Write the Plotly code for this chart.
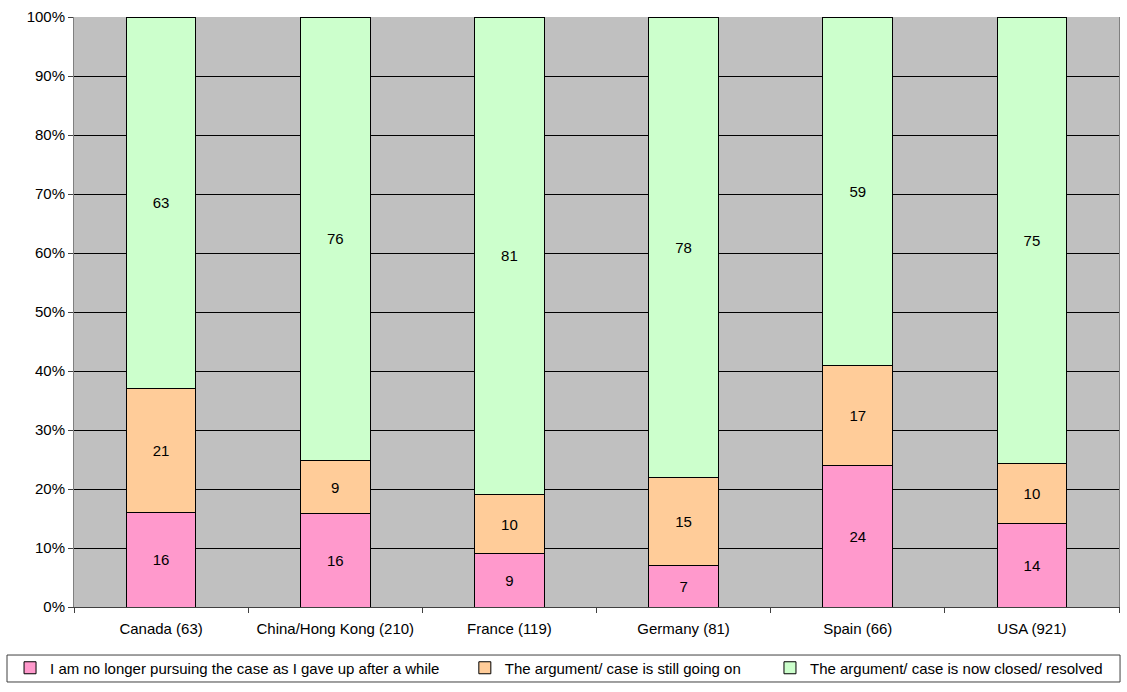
import plotly.graph_objects as go

# Survey responses by country (sample size in brackets), values in percent
categories = ["Canada (63)", "China/Hong Kong (210)", "France (119)",
              "Germany (81)", "Spain (66)", "USA (921)"]
gave_up = [16, 16, 9, 7, 24, 14]
ongoing = [21, 9, 10, 15, 17, 10]
resolved = [63, 76, 81, 78, 59, 75]

series_names = [
    "I am no longer pursuing the case as I gave up after a while",
    "The argument/ case is still going on",
    "The argument/ case is now closed/ resolved",
]
series_values = [gave_up, ongoing, resolved]
series_colors = ["#FF99CC", "#FFCC99", "#CCFFCC"]
legend_ids = ["legend", "legend2", "legend3"]

FONT = "Liberation Sans, Arial, sans-serif"
FS = 15

fig = go.Figure()
for name, vals, color, lg in zip(series_names, series_values, series_colors, legend_ids):
    fig.add_trace(go.Bar(
        x=categories,
        y=vals,
        name=name,
        width=0.4,
        marker=dict(color=color, line=dict(color="black", width=1)),
        text=[str(v) for v in vals],
        textposition="inside",
        insidetextanchor="middle",
        textangle=0,
        textfont=dict(family=FONT, size=FS, color="black"),
        constraintext="none",
        hoverinfo="x+y+name",
        showlegend=True,
        legend=lg,
    ))

legend_common = dict(
    orientation="h",
    yanchor="middle",
    y=-0.1034,
    xanchor="left",
    bgcolor="rgba(0,0,0,0)",
    borderwidth=0,
    font=dict(family=FONT, size=FS, color="black"),
    itemclick=False,
    itemdoubleclick=False,
    visible=True,
)

fig.update_layout(
    width=1127,
    height=692,
    margin=dict(l=74, r=8, t=17, b=85),
    paper_bgcolor="white",
    plot_bgcolor="#C0C0C0",
    barmode="stack",
    barnorm="percent",
    showlegend=True,
    font=dict(family=FONT, size=FS, color="black"),
    uniformtext=dict(minsize=FS, mode="show"),
    legend=dict(x=-0.0612, **legend_common),
    legend2=dict(x=0.374, **legend_common),
    legend3=dict(x=0.666, **legend_common),
    shapes=[dict(
        type="rect", xref="paper", yref="paper",
        x0=-0.0641, x1=1.001, y0=-0.1271, y1=-0.0814,
        line=dict(color="#404040", width=1),
        fillcolor="rgba(0,0,0,0)",
        layer="below",
    )],
)

fig.update_xaxes(
    type="category",
    tickson="boundaries",
    ticks="outside",
    ticklen=5,
    tickcolor="#404040",
    ticklabelstandoff=8,
    showline=True,
    linecolor="#404040",
    linewidth=1,
    mirror=False,
    showgrid=False,
    tickfont=dict(family=FONT, size=FS, color="black"),
)

fig.update_yaxes(
    range=[0, 100],
    tickvals=list(range(0, 101, 10)),
    ticktext=[f"{v}%" for v in range(0, 101, 10)],
    ticks="outside",
    ticklen=5,
    tickcolor="#404040",
    showline=True,
    linecolor="#808080",
    linewidth=1,
    mirror=True,
    showgrid=True,
    gridcolor="black",
    gridwidth=1,
    zeroline=False,
    tickfont=dict(family=FONT, size=FS, color="black"),
)

fig.write_html("out.html")
